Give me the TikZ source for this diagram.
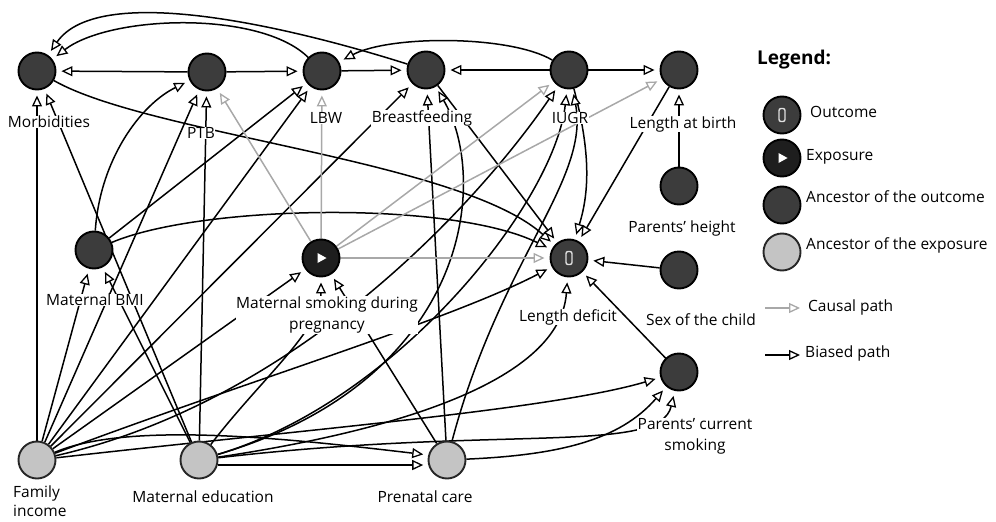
\documentclass[tikz,border=0pt]{standalone}
\usepackage{fontspec}
\setmainfont{Open Sans}
\usetikzlibrary{arrows.meta}
\definecolor{dk}{HTML}{3C3C3C}
\definecolor{dkx}{HTML}{1E1E1E}
\definecolor{lt}{HTML}{C4C4C4}
\definecolor{cg}{HTML}{A8A8A8}
\pgfdeclarelayer{edges}
\pgfsetlayers{edges,main}
\begin{document}
\begin{tikzpicture}[x=1pt,y=-1pt,
  every node/.style={font=\fontsize{15.5}{21}\selectfont},
  anc/.style={circle,draw=black,line width=1.9pt,fill=dk,minimum size=37pt,inner sep=0pt},
  ance/.style={anc,fill=lt,draw=black!85},
  outc/.style={anc,path picture={\draw[draw=black!12,line width=1.4pt,fill=dk,rounded corners=2pt]
      ([xshift=-3pt,yshift=-6.5pt]path picture bounding box.center) rectangle ([xshift=3pt,yshift=6.5pt]path picture bounding box.center);}},
  expo/.style={anc,fill=dkx,path picture={\fill[white]
      ([xshift=-3.5pt,yshift=5pt]path picture bounding box.center) -- ([xshift=5.5pt]path picture bounding box.center) -- ([xshift=-3.5pt,yshift=-5pt]path picture bounding box.center) -- cycle;}},
  e/.style={draw=black,line width=1.5pt,-{Triangle[length=11pt,width=10pt,fill=white,line width=1.3pt]},shorten >=5pt},
  cp/.style={e,draw=cg},
  lab/.style={fill=white,inner sep=0.5pt},
  leg/.style={anchor=west,inner sep=0pt}]
\useasboundingbox (0,0) rectangle (996,522);
% nodes
\node[anc] (mor) at (37,71) {};
\node[anc] (ptb) at (207,72) {};
\node[anc] (lbw) at (322,71) {};
\node[anc] (bf) at (426,70) {};
\node[anc] (iugr) at (569,70) {};
\node[anc] (lab) at (679,70) {};
\node[anc] (ph) at (679,186) {};
\node[anc] (bmi) at (94,250) {};
\node[expo] (ms) at (321,258) {};
\node[outc] (ld) at (569,258) {};
\node[anc] (sex) at (679,270) {};
\node[anc] (pcs) at (679,372) {};
\node[ance] (fi) at (37,460) {};
\node[ance] (me) at (199,460) {};
\node[ance] (pc) at (447,460) {};
\begin{pgfonlayer}{edges}
% top row
\draw[e] (ptb) -- (mor);
\draw[e] (ptb) -- (lbw);
\draw[e] (lbw) -- (bf);
\draw[e] (iugr) -- (bf);
\draw[e] (iugr) -- (lab);
\draw[e] (lbw) .. controls (260,10) and (110,15) .. (mor);
\draw[e] (bf) .. controls (300,30) and (100,-20) .. (mor);
\draw[e] (iugr) .. controls (510,35) and (390,35) .. (lbw);
\draw[e] (ph) -- (lab);
\draw[e] (lab) -- (ld);
\draw[e] (sex) -- (ld);
\draw[e] (pcs) -- (ld);
\draw[e] (mor) .. controls (150,135) and (460,160) .. (ld);
\draw[e] (bmi) .. controls (200,205) and (450,200) .. (ld);
\draw[e] (bf) -- (ld);
\draw[e] (iugr) .. controls (590,150) and (590,190) .. (ld);
\draw[e] (bmi) .. controls (100,160) and (140,105) .. (ptb);
\draw[e] (bmi) -- (lbw);
\draw[e] (fi) -- (mor);
\draw[e] (me) -- (mor);
\draw[e] (fi) -- (bmi);
\draw[e] (me) -- (bmi);
\draw[e] (fi) -- (ptb);
\draw[e] (me) -- (ptb);
\draw[e] (fi) -- (lbw);
\draw[e] (fi) -- (bf);
\draw[e] (pc) -- (bf);
\draw[e] (me) .. controls (470,380) and (490,180) .. (bf);
\draw[e] (fi) .. controls (300,400) and (480,200) .. (iugr);
\draw[e] (me) .. controls (400,400) and (555,200) .. (iugr);
\draw[e] (pc) .. controls (500,260) and (590,180) .. (iugr);
\draw[e] (fi) -- (ms);
\draw[e] (me) .. controls (260,380) and (321,330) .. (ms);
\draw[e] (pc) -- (ms);
\draw[e] (fi) .. controls (250,380) and (450,320) .. (ld);
\draw[e] (me) .. controls (400,430) and (560,380) .. (ld);
\draw[e] (fi) .. controls (300,430) and (550,410) .. (pcs);
\draw[e] (pc) .. controls (560,455) and (620,440) .. (pcs);
\draw[e] (me) .. controls (500,425) and (660,455) .. (pcs);
\draw[e] (fi) .. controls (130,420) and (300,440) .. (pc.165);
\draw[e] (me.-15) -- (pc.-165);
% causal (gray)
\draw[cp] (ms) -- (ptb);
\draw[cp] (ms) -- (lbw);
\draw[cp] (ms) -- (iugr);
\draw[cp] (ms) -- (lab);
\draw[cp] (ms) -- (ld);
\end{pgfonlayer}
% labels
\node[lab] at (49,122) {Morbidities};
\node[lab] at (201,133) {PTB};
\node[lab] at (326,118) {LBW};
\node[lab] at (422,118) {Breastfeeding};
\node[lab] at (570,118) {IUGR};
\node[lab] at (683,124) {Length at birth};
\node[lab] at (682,228) {Parents’ height};
\node[lab] at (95,300) {Maternal BMI};
\node[lab,align=center] at (327,315) {Maternal smoking during\\pregnancy};
\node[lab] at (568,317) {Length deficit};
\node[lab] at (701,320) {Sex of the child};
\node[lab,align=center] at (695,436) {Parents’ current\\smoking};
\node[lab,align=left,anchor=west,font=\fontsize{15.5}{19.5}\selectfont,inner sep=0pt] at (13,501) {Family\\income};
\node[lab] at (203,497) {Maternal education};
\node[lab] at (425,497) {Prenatal care};
% legend
\node[leg] (lt) at (757,60) {\fontsize{19}{22}\selectfont\bfseries Legend:};
\node[outc] (lo) at (782,115) {};
\node[leg] (tlo) at (810,112) {Outcome};
\node[expo] (le) at (782,158) {};
\node[leg] (tle) at (806,157) {Exposure};
\node[anc] (la) at (782,205) {};
\node[leg] (tla) at (806,197) {Ancestor of the outcome};
\node[ance] (lx) at (782,252) {};
\node[leg] (tlx) at (806,245) {Ancestor of the exposure};
\coordinate (c1) at (765,308);
\coordinate (c2) at (800,308);
\draw[cp,shorten >=0pt] (c1) -- (c2);
\node[leg] (tc) at (808,307) {Causal path};
\coordinate (b1) at (765,355);
\coordinate (b2) at (800,355);
\draw[e,shorten >=0pt] (b1) -- (b2);
\node[leg] (tb) at (805,353) {Biased path};
\end{tikzpicture}
\end{document}
